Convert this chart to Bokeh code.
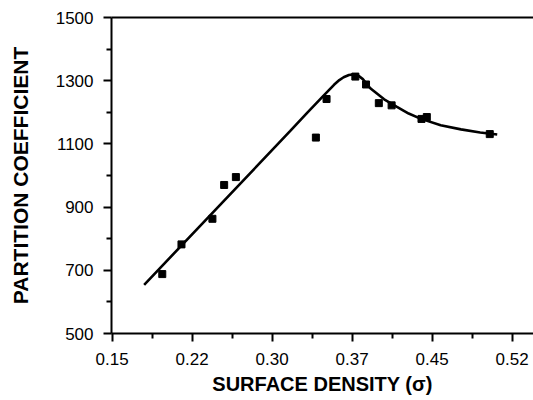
from bokeh.plotting import figure
from bokeh.models import FixedTicker, CustomJSTickFormatter, LinearAxis, Range1d
from bokeh.embed import file_html
from bokeh.resources import INLINE

# measured data points (surface density, partition coefficient)
density = [0.197, 0.215, 0.244, 0.255, 0.266, 0.341, 0.351, 0.378, 0.388, 0.400, 0.412, 0.440, 0.445, 0.504]
partition = [688, 782, 863, 970, 995, 1120, 1242, 1313, 1288, 1229, 1222, 1179, 1185, 1131]

# fitted curve
curve_density = [0.180, 0.317, 0.333, 0.348, 0.358, 0.363, 0.367, 0.372, 0.3765, 0.381, 0.385,
                 0.392, 0.405, 0.417, 0.428, 0.439, 0.458, 0.477, 0.495, 0.511]
curve_partition = [654, 1141, 1199, 1252, 1287, 1302, 1311, 1318, 1320, 1316, 1305,
                   1276, 1241, 1217, 1196, 1180, 1159, 1146, 1136, 1130]

x_ticks = [0.15, 0.225, 0.30, 0.375, 0.45, 0.525]
x_tick_labels = ["0.15", "0.22", "0.30", "0.37", "0.45", "0.52"]
x_minor = [0.1875, 0.2625, 0.3375, 0.4125, 0.4875]
y_ticks = [500, 700, 900, 1100, 1300, 1500]
y_minor = [600, 800, 1000, 1200, 1400]

FONT = "Liberation Sans"

p = figure(width=533, height=400, output_backend="svg", toolbar_location=None,
           x_range=Range1d(0.1494, 0.545), y_range=Range1d(500, 1500),
           min_border_left=111, min_border_right=0, min_border_top=17, min_border_bottom=67)
p.outline_line_color = None
p.xgrid.visible = False
p.ygrid.visible = False
p.background_fill_color = "white"
p.border_fill_color = "white"

p.line(curve_density, curve_partition, line_color="black", line_width=2.6)
p.scatter(density, partition, marker="square", size=7, fill_color="black", line_color="black")

xa = p.xaxis[0]
xa.ticker = FixedTicker(ticks=x_ticks, minor_ticks=x_minor)
xa.formatter = CustomJSTickFormatter(args=dict(tv=x_ticks, tl=x_tick_labels), code="""
for (let i = 0; i < tv.length; i++) { if (Math.abs(tv[i] - tick) < 1e-6) return tl[i]; }
return tick.toFixed(2);
""")
xa.axis_label = "SURFACE DENSITY (σ)"

ya = p.yaxis[0]
ya.ticker = FixedTicker(ticks=y_ticks, minor_ticks=y_minor)
ya.axis_label = "PARTITION COEFFICIENT"

for ax in (xa, ya):
    ax.axis_line_width = 2
    ax.axis_line_color = "black"
    ax.major_tick_line_width = 2
    ax.minor_tick_line_width = 2
    ax.major_tick_in = 0
    ax.minor_tick_in = 0
    ax.major_tick_out = 8
    ax.minor_tick_out = 5
    ax.major_label_text_font = FONT
    ax.major_label_text_font_size = "17px"
    ax.major_label_text_color = "black"
    ax.axis_label_text_font = FONT
    ax.axis_label_text_font_style = "bold"
    ax.axis_label_text_color = "black"

xa.major_label_standoff = 11
xa.axis_label_standoff = 5
xa.axis_label_text_font_size = "20px"
ya.major_label_standoff = 10
ya.axis_label_standoff = 21
ya.axis_label_text_font_size = "21px"

top = LinearAxis(ticker=FixedTicker(ticks=[]), axis_line_width=2, axis_line_color="black",
                 major_tick_out=0, major_tick_in=0, minor_tick_out=0, minor_tick_in=0,
                 major_label_text_font_size="0px", major_label_standoff=0)
p.add_layout(top, "above")

open("out.html", "w").write(file_html(p, INLINE))
